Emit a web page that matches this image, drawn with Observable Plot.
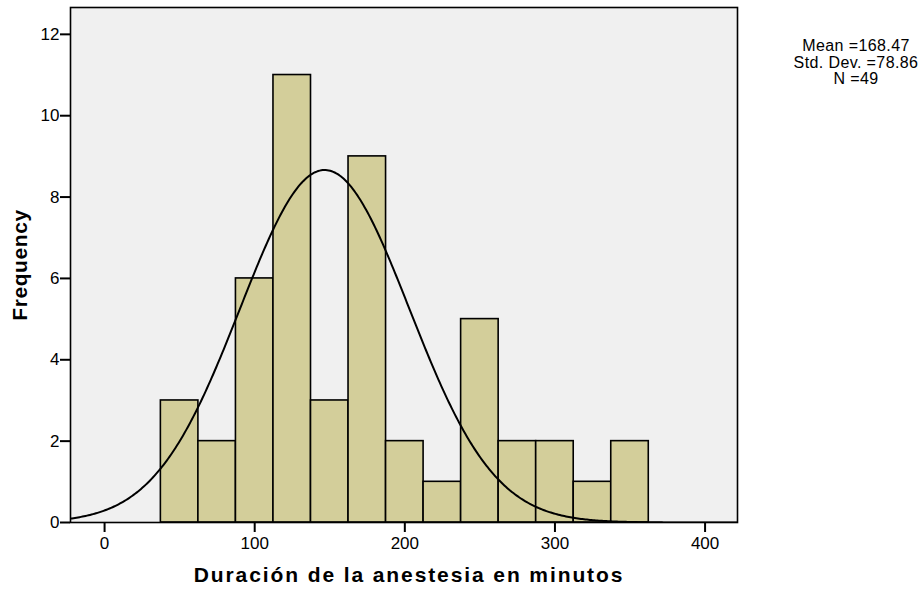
<!DOCTYPE html>
<html>
<head>
<meta charset="utf-8">
<script src="https://cdn.jsdelivr.net/npm/d3@7"></script>
<script src="https://cdn.jsdelivr.net/npm/@observablehq/plot@0.6"></script>
<style>
  html, body { margin: 0; padding: 0; background: #ffffff; }
  #wrap { position: relative; width: 921px; height: 592px; font-family: Arial, "Liberation Sans", sans-serif; }
  #stats { position: absolute; left: 786px; top: 38px; width: 140px; text-align: center; white-space: nowrap;
           font-size: 16px; line-height: 16.5px; letter-spacing: 0.4px; color: #000; }
</style>
</head>
<body>
<div id="wrap">
  <div id="chart"></div>
  <div id="stats"></div>
</div>
<script>
// Histogram of anaesthesia duration (minutes), bin width 25
const binStarts = [37.5, 62.5, 87.5, 112.5, 137.5, 162.5, 187.5, 212.5, 237.5, 262.5, 287.5, 312.5, 337.5];
const counts    = [3, 2, 6, 11, 3, 9, 2, 1, 5, 2, 2, 1, 2];
const binWidth = 25;

// Summary statistics shown in the legend box
const statLabels = ["Mean =168.47", "Std. Dev. =78.86", "N =49"];
const sampleN = 49;

// Fitted normal curve overlay parameters
const curveMean = 146.6;
const curveSd = 56.4;

const xTicks = [0, 100, 200, 300, 400];
const yTicks = [0, 2, 4, 6, 8, 10, 12];
const xTitle = "Duración de la anestesia en minutos";
const yTitle = "Frequency";

const xDomain = [-22.7, 421.6];
const yDomain = [0, 12.66];

const bins = binStarts.map((s, i) => ({x1: s, x2: s + binWidth, count: counts[i]}));

// Normal density scaled to frequency counts
const curve = d3.range(xDomain[0], xDomain[1] + 0.5, 1).map(x => ({
  x,
  y: sampleN * binWidth * Math.exp(-0.5 * ((x - curveMean) / curveSd) ** 2) / (curveSd * Math.sqrt(2 * Math.PI))
}));

const chart = Plot.plot({
  width: 921,
  height: 592,
  marginLeft: 70,
  marginRight: 184,
  marginTop: 7,
  marginBottom: 70,
  style: {fontFamily: "Arial, 'Liberation Sans', sans-serif", background: "transparent", color: "#000"},
  x: {domain: xDomain, ticks: xTicks},
  y: {domain: yDomain, ticks: yTicks},
  marks: [
    Plot.frame({fill: "#f0f0f0", stroke: "none"}),
    Plot.rectY(bins, {x1: "x1", x2: "x2", y: "count", fill: "#d3ce9a", stroke: "#000", strokeWidth: 1.6}),
    Plot.line(curve, {x: "x", y: "y", stroke: "#000", strokeWidth: 2, clip: true}),
    Plot.frame({stroke: "#000", strokeWidth: 1.6}),
    Plot.axisX({ticks: xTicks, tickSize: 10, tickPadding: 4, fontSize: 17, label: null, strokeWidth: 2}),
    Plot.axisY({ticks: yTicks, tickSize: 10, tickPadding: 1, fontSize: 17, label: null, strokeWidth: 2}),
    Plot.text([xTitle], {frameAnchor: "bottom", dx: 5, dy: 59, fontSize: 21, fontWeight: "bold", text: d => d}),
    Plot.text([yTitle], {frameAnchor: "left", dx: -50, rotate: -90, textAnchor: "middle", fontSize: 21, fontWeight: "bold", text: d => d})
  ]
});

// Wider tracking on the axis titles
d3.select(chart).selectAll("text")
  .filter(function() { return this.textContent === xTitle; })
  .attr("letter-spacing", "1.9");
d3.select(chart).selectAll("text")
  .filter(function() { return this.textContent === yTitle; })
  .attr("letter-spacing", "0.6");

document.getElementById("chart").appendChild(chart);
document.getElementById("stats").innerHTML = statLabels.map(s => `<div>${s}</div>`).join("");
</script>
</body>
</html>
